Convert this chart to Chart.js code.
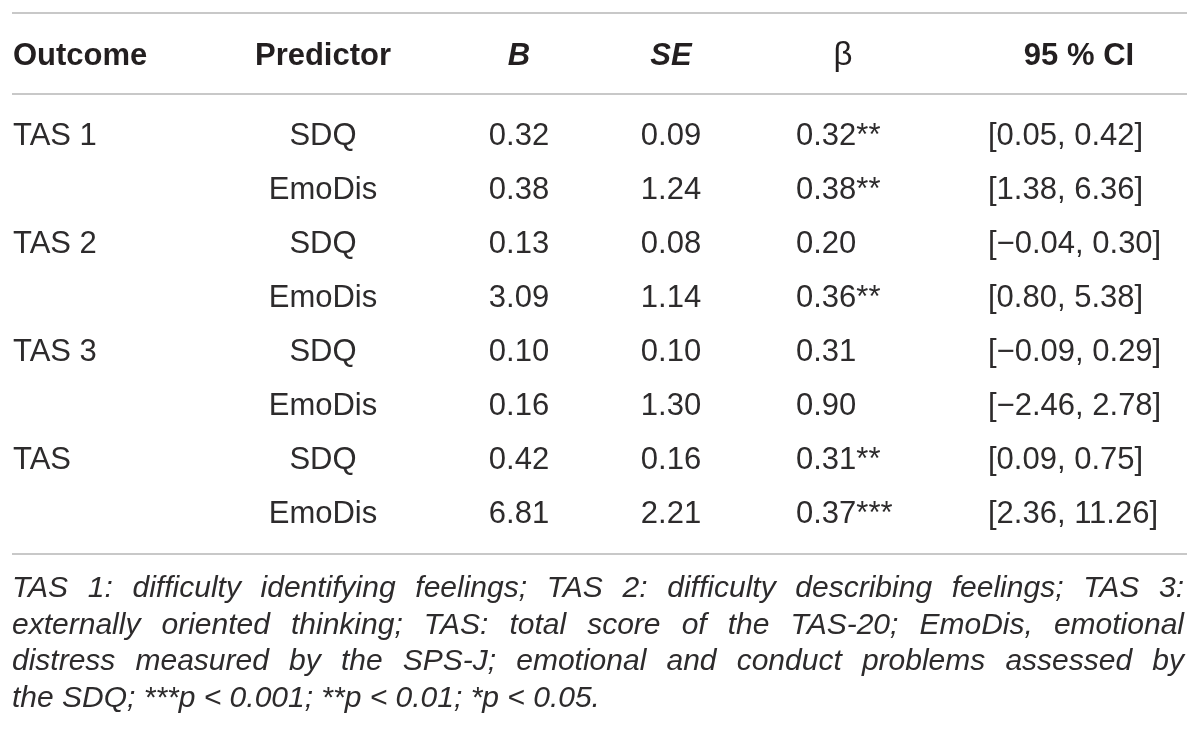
<!DOCTYPE html>
<html>
<head>
<meta charset="utf-8">
<title>Regression table</title>
<script src="https://cdn.jsdelivr.net/npm/chart.js@4.4.1/dist/chart.umd.min.js"></script>
<style>
	html, body { margin:0; padding:0; background:#fff; }
	#tabla { display:block; }
</style>
</head>
<body>
<canvas id="tabla" width="1200" height="744"></canvas>
<script>
// datos de la tabla
var headers    = ["Outcome", "Predictor", "B", "SE", "\u03B2", "95 % CI"];
var outcomes   = ["TAS 1", "", "TAS 2", "", "TAS 3", "", "TAS", ""];
var predictors = ["SDQ", "EmoDis", "SDQ", "EmoDis", "SDQ", "EmoDis", "SDQ", "EmoDis"];
var bValues    = [0.32, 0.38, 0.13, 3.09, 0.10, 0.16, 0.42, 6.81];
var seValues   = [0.09, 1.24, 0.08, 1.14, 0.10, 1.30, 0.16, 2.21];
var betaValues = [0.32, 0.38, 0.20, 0.36, 0.31, 0.90, 0.31, 0.37];
var betaStars  = ["**", "**", "", "**", "", "", "**", "***"];
var ciLower    = [0.05, 1.38, -0.04, 0.80, -0.09, -2.46, 0.09, 2.36];
var ciUpper    = [0.42, 6.36, 0.30, 5.38, 0.29, 2.78, 0.75, 11.26];
var notes = [
	"TAS 1: difficulty identifying feelings; TAS 2: difficulty describing feelings; TAS 3:",
	"externally oriented thinking; TAS: total score of the TAS-20; EmoDis, emotional",
	"distress measured by the SPS-J; emotional and conduct problems assessed by",
	"the SDQ; ***p < 0.001; **p < 0.01; *p < 0.05."
];

// layout (en unidades de las escalas)
var colX      = [13, 323, 519, 671, 796, 988];
var colAlign  = ["left", "center", "center", "center", "left", "left"];
var headX     = [13, 323, 519, 671, 843, 1079];
var headAlign = ["left", "center", "center", "center", "center", "center"];
var headFont  = ["bold", "bold", "italic bold", "italic bold", "normal", "bold"];
var rulesY    = [-2.25, -0.75, 7.77];
var headY     = -1.49;
var noteY     = 8.565, noteStep = 0.68;
var family    = "'Liberation Sans', Arial, Helvetica, sans-serif";
var ink       = "#231f20";
var lightInk  = "#2d2b2c";

function fmt(v){
	return v.toFixed(2).replace("-", "\u2212");
}

function cellText(col, row){
	switch(col){
		case 0: return outcomes[row];
		case 1: return predictors[row];
		case 2: return fmt(bValues[row]);
		case 3: return fmt(seValues[row]);
		case 4: return fmt(betaValues[row]) + betaStars[row];
		default: return "[" + fmt(ciLower[row]) + ", " + fmt(ciUpper[row]) + "]";
	}
}

function $each(arr, fn){ for(var i = 0; i < arr.length; i++) fn(i, arr[i]); }

function getDatasets(){
	var sets = [];
	$each(headers, function(k){
		var pts = [];
		for(var r = 0; r < predictors.length; r++) pts.push({ x: colX[k], y: r });
		sets.push({ label: headers[k], data: pts, pointRadius: 0, pointHoverRadius: 0 });
	});
	return sets;
}

// dibuja una linea justificada palabra por palabra
function justifyLine(ctx, text, x0, x1, y, justify){
	var words = text.split(" ");
	ctx.textAlign = "left";
	if(!justify){ ctx.fillText(text, x0, y); return; }
	var total = 0;
	$each(words, function(i, w){ total += ctx.measureText(w).width; });
	var gap = (x1 - x0 - total) / (words.length - 1);
	var x = x0;
	$each(words, function(i, w){
		ctx.fillText(w, x, y);
		x += ctx.measureText(w).width + gap;
	});
}

var tablePlugin = {
	id: "tablePlugin",
	afterDatasetsDraw: function(chart){
		var ctx = chart.ctx, sx = chart.scales.x, sy = chart.scales.y;
		ctx.save();

		// reglas horizontales
		ctx.strokeStyle = "#c8c8c8";
		ctx.lineWidth = 2;
		$each(rulesY, function(i, v){
			var py = Math.round(sy.getPixelForValue(v));
			ctx.beginPath();
			ctx.moveTo(sx.getPixelForValue(12), py);
			ctx.lineTo(sx.getPixelForValue(1187), py);
			ctx.stroke();
		});

		ctx.textBaseline = "alphabetic";

		// encabezados
		ctx.fillStyle = ink;
		var hy = sy.getPixelForValue(headY);
		$each(headers, function(k, h){
			var size = k == 4 ? 33 : 31;
			ctx.font = headFont[k] + " " + size + "px " + family;
			ctx.textAlign = headAlign[k];
			ctx.fillText(h, sx.getPixelForValue(headX[k]), hy + 11);
		});

		// celdas desde los puntos del dataset
		ctx.fillStyle = lightInk;
		ctx.font = "normal 31px " + family;
		chart.data.datasets.forEach(function(ds, k){
			var meta = chart.getDatasetMeta(k);
			ctx.textAlign = colAlign[k];
			meta.data.forEach(function(pt, r){
				ctx.fillText(cellText(k, r), pt.x, pt.y + 11);
			});
		});

		// nota al pie
		ctx.font = "italic 30px " + family;
		$each(notes, function(i, line){
			var py = sy.getPixelForValue(noteY + i * noteStep);
			justifyLine(ctx, line, sx.getPixelForValue(12), sx.getPixelForValue(1184), py, i < notes.length - 1);
		});
		ctx.restore();
	}
};

new Chart(document.getElementById("tabla"), {
	type: "scatter",
	data: { datasets: getDatasets() },
	options: {
		responsive: false,
		animation: false,
		events: [],
		layout: { padding: 0 },
		plugins: { legend: { display: false }, tooltip: { enabled: false } },
		scales: {
			x: { type: "linear", display: false, min: 0, max: 1200 },
			y: { type: "linear", display: false, reverse: true, min: -2.49, max: 11.29 }
		}
	},
	plugins: [ tablePlugin ]
});
</script>
</body>
</html>
